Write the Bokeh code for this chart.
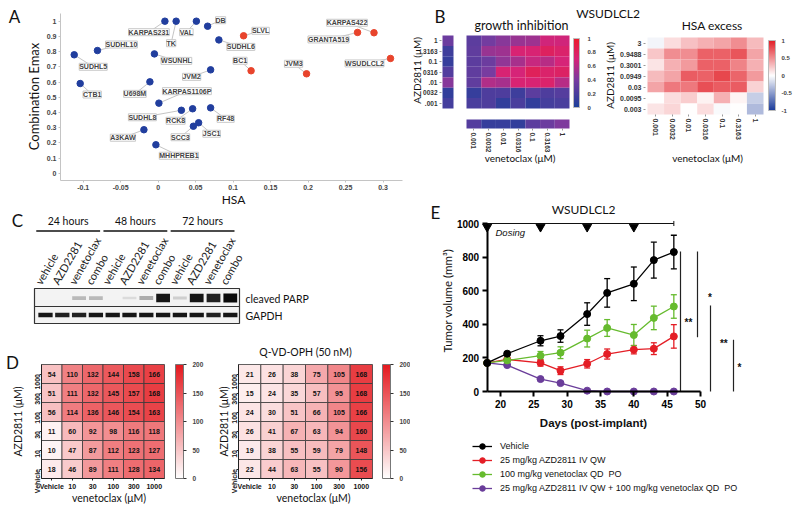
import math
import numpy as np
from bokeh.plotting import figure
from bokeh.models import (ColumnDataSource, LabelSet, Label, Range1d, FixedTicker,
                          LinearColorMapper, ColorBar, Whisker, TeeHead, Legend,
                          LegendItem, Div)
from bokeh.layouts import column, row
from bokeh.embed import file_html
from bokeh.resources import INLINE
from bokeh.core.properties import value

# ======================= DATA =======================
# ---- Panel A : combination Emax vs HSA
a_lines = ["KARPAS231", "TK", "VAL", "DB", "SLVL", "SUDHL6", "SUDHL10", "SUDHL5",
           "WSUNHL", "BC1", "JVM2", "JVM3", "CTB1", "U698M", "KARPAS1106P", "SUDHL8",
           "RCK8", "RF48", "SCC3", "JSC1", "A3KAW", "MHHPREB1", "KARPAS422",
           "GRANTA519", "WSUDLCL2"]
a_hsa = [0.009, 0.024, 0.051, 0.066, 0.114, 0.081, -0.081, -0.112, -0.005, 0.124,
         0.070, 0.198, -0.104, -0.011, 0.001, 0.031, 0.046, 0.070, 0.047, 0.054,
         -0.019, -0.003, 0.288, 0.266, 0.310]
a_emax = [1.0, 1.0, 1.0, 0.967, 0.904, 0.877, 0.807, 0.779, 0.785, 0.674, 0.680,
          0.654, 0.590, 0.601, 0.461, 0.414, 0.424, 0.430, 0.309, 0.332, 0.286,
          0.187, 0.924, 0.926, 0.755]
a_synergy = ["SLVL", "BC1", "JVM3", "KARPAS422", "GRANTA519", "WSUDLCL2"]
a_xticks = [-0.1, -0.05, 0, 0.05, 0.1, 0.15, 0.2, 0.25, 0.3]
a_xtick_labels = ["-0.1", "-0.05", "0", "0.05", "0.1", "0.15", "0.2", "0.25", "0.3"]
a_yticks = [0, 0.1, 0.2, 0.3, 0.4, 0.5, 0.6, 0.7, 0.8, 0.9, 1]
a_ytick_labels = ["0", "0.1", "0.2", "0.3", "0.4", "0.5", "0.6", "0.7", "0.8", "0.9", "1"]

# ---- Panel B : WSUDLCL2 matrices
b_ven_labels = ["0.001", "0.0032", "0.01", "0.0316", "0.1", "0.3163", "1"]
b_gi_azd_labels = ["1", "3163", "0.1", "0316", ".01", "0032", ".001"]      # top -> bottom
b_gi = [[0.28, 0.38, 0.45, 0.50, 0.52, 0.68, 0.68],
        [0.30, 0.50, 0.52, 0.72, 0.72, 0.80, 0.75],
        [0.28, 0.35, 0.48, 0.55, 0.65, 0.60, 0.70],
        [0.30, 0.40, 0.72, 0.70, 0.82, 0.75, 0.78],
        [0.30, 0.58, 0.55, 0.72, 0.72, 0.75, 0.60],
        [0.12, 0.22, 0.22, 0.15, 0.28, 0.22, 0.25],
        [0.20, 0.22, 0.10, 0.20, 0.10, 0.18, 0.20]]
b_gi_azd_alone = [0.35, 0.16, 0.12, 0.24, 0.45, 0.10, 0.18]                # top -> bottom
b_gi_ven_alone = [0.25, 0.12, 0.12, 0.10, 0.28, 0.35, 0.42]
b_gi_ticks = [0, 0.2, 0.4, 0.6, 0.8, 1]
b_gi_tick_labels = ["0", "0.2", "0.4", "0.6", "0.8", "1"]
b_hsa_azd_labels = ["3", "0.9488", "0.3001", "0.0949", "0.03", "0.0095", "0.003"]  # top -> bottom
b_hsa = [[-0.05, 0.15, 0.28, 0.35, 0.40, 0.50, 0.30],
         [0.25, 0.50, 0.50, 0.70, 0.70, 0.75, 0.40],
         [0.12, 0.35, 0.45, 0.70, 0.70, 0.55, 0.35],
         [0.30, 0.40, 0.72, 0.70, 0.82, 0.68, 0.45],
         [0.40, 0.60, 0.60, 0.78, 0.72, 0.72, 0.20],
         [0.00, 0.15, 0.22, 0.06, 0.35, 0.05, -0.25],
         [0.12, 0.18, 0.00, 0.15, -0.03, 0.00, -0.35]]
b_hsa_ticks = [-1, -0.5, 0, 0.5, 1]
b_hsa_tick_labels = ["-1", "-0.5", "0", "0.5", "1"]

# ---- Panel C : western blot
c_times = ["24 hours", "48 hours", "72 hours"]
c_treatments = ["vehicle", "AZD2281", "venetoclax", "combo"]
c_parp = [0.0, 0.0, 0.25, 0.25, 0.0, 0.10, 0.30, 0.95, 0.15, 0.95, 0.90, 1.0]
c_gapdh = [0.95, 0.90, 0.90, 0.95, 0.95, 0.95, 0.95, 0.95, 0.95, 0.95, 0.90, 0.95]
c_proteins = ["cleaved PARP", "GAPDH"]

# ---- Panel D : matrices (rows top -> bottom: 1000 ... Vehicle)
d_doses = ["Vehicle", "10", "30", "100", "300", "1000"]
d_plain = [[54, 110, 132, 144, 158, 166],
           [51, 111, 132, 145, 157, 168],
           [56, 114, 136, 146, 154, 163],
           [11, 60, 92, 98, 116, 118],
           [10, 47, 87, 112, 123, 127],
           [18, 46, 89, 111, 128, 134]]
d_qvd = [[21, 26, 38, 75, 105, 168],
         [15, 24, 35, 57, 95, 168],
         [24, 30, 51, 66, 105, 166],
         [26, 41, 67, 63, 94, 160],
         [19, 38, 55, 59, 79, 148],
         [22, 44, 63, 55, 90, 156]]
d_ticks = [0, 50, 100, 150, 200]
d_tick_labels = ["0", "50", "100", "150", "200"]

# ---- Panel E : xenograft growth
e_days = [18, 21, 26, 29, 33, 36, 40, 43, 46]
e_series = ["Vehicle", "25 mg/kg AZD2811 IV QW", "100 mg/kg venetoclax QD  PO",
            "25 mg/kg AZD2811 IV QW + 100 mg/kg venetoclax QD  PO"]
e_vehicle = [170, 225, 302, 330, 461, 587, 641, 782, 830]
e_vehicle_err = [0, 12, 30, 37, 67, 85, 100, 107, 100]
e_azd = [170, 191, 171, 124, 165, 223, 249, 255, 328]
e_azd_err = [0, 10, 20, 23, 25, 30, 25, 35, 70]
e_ven = [170, 185, 213, 231, 315, 378, 336, 438, 506]
e_ven_err = [0, 10, 25, 35, 50, 50, 63, 70, 70]
e_combo = [170, 157, 74, 50, 5, 0, 0, 0, 0]
e_combo_err = [0, 0, 0, 0, 0, 0, 0, 0, 0]
e_dosing_days = [18, 26, 33, 40]
e_sig_x = [47.0, 49.55, 51.5, 54.95]
e_sig_top = [833, 833, 512, 308]
e_sig_bottom = [0, 323, 0, 0]
e_star_text = ["**", "*", "**", "*"]
e_star_x = [48.2, 51.4, 53.5, 55.85]
e_star_y = [411, 558, 284, 143]
e_xticks = [20, 25, 30, 35, 40, 45, 50]
e_yticks = [0, 200, 400, 600, 800, 1000]

# ======================= HELPERS =======================
TICK_FONT = "Liberation Sans"
TITLE_FONT = "Lato"
COL_SPLIT = 410      # page x where the right-hand column starts


class Frame:
    """Canvas box (page px) + linear mapping page px <-> data (layout only)."""
    def __init__(self, l, r, t, b, xa, ya):
        self.l, self.r, self.t, self.b = l, r, t, b
        pxa, va, pxb, vb = xa
        self.sx = (pxb - pxa) / (vb - va)
        self.x0 = (pxa, va)
        pya, wa, pyb, wb = ya
        self.sy = (pyb - pya) / (wb - wa)   # negative
        self.y0 = (pya, wa)
        self.xr = (self.x(l), self.x(r))
        self.yr = (self.y(b), self.y(t))

    def x(self, px):
        return self.x0[1] + (px - self.x0[0]) / self.sx

    def y(self, py):
        return self.y0[1] + (py - self.y0[0]) / self.sy


def make_fig(fr, **kw):
    p = figure(width=int(round(fr.r - fr.l)), height=int(round(fr.b - fr.t)),
               x_range=Range1d(*fr.xr), y_range=Range1d(*fr.yr),
               output_backend="svg", toolbar_location=None, min_border=0, **kw)
    p.outline_line_color = None
    p.grid.visible = False
    p.background_fill_color = "white"
    p.border_fill_color = "white"
    return p


def ramp(stops, n=256):
    pos = np.array([s[0] for s in stops])
    cols = np.array([[int(c[i:i + 2], 16) for i in (1, 3, 5)] for _, c in stops], dtype=float)
    out = []
    for t in np.linspace(0, 1, n):
        r, g, b = (np.interp(t, pos, cols[:, k]) for k in range(3))
        out.append("#%02x%02x%02x" % (int(round(r)), int(round(g)), int(round(b))))
    return out


def style_axis(ax, size, color="#333", bold=True, tick_out=2, standoff=2):
    ax.major_label_text_font = TICK_FONT
    ax.major_label_text_font_size = size
    ax.major_label_text_font_style = "bold" if bold else "normal"
    ax.major_label_text_color = color
    ax.major_tick_out = tick_out
    ax.major_tick_in = 0
    ax.minor_tick_line_color = None
    ax.major_label_standoff = standoff


def text(p, fr, px, py, s, size="12px", font=TITLE_FONT, style="normal", angle=0,
         align="center", color="#111"):
    p.add_layout(Label(x=fr.x(px), y=fr.y(py), text=s, text_font=font,
                       text_font_size=size, text_font_style=style, text_align=align,
                       text_baseline="middle", text_color=color, angle=angle))


# ======================= PANEL A =======================
A_OFFSETS = {"KARPAS231": (-16, 11), "TK": (-5, 22), "VAL": (-10, 11), "DB": (13, -6),
             "SLVL": (17, -5), "SUDHL6": (22, 7), "SUDHL10": (24, -6), "SUDHL5": (19, 12),
             "WSUNHL": (22, 7), "BC1": (-11, -10), "JVM2": (-19, 7), "JVM3": (-13, -10),
             "CTB1": (12, 11), "U698M": (-15, 12), "KARPAS1106P": (28, -12),
             "SUDHL8": (-39, 7), "RCK8": (-17, 12), "RF48": (15, 11), "SCC3": (-13, 11),
             "JSC1": (13, 11), "A3KAW": (-21, 8), "MHHPREB1": (23, 11),
             "KARPAS422": (-27, -10), "GRANTA519": (-29, 7), "WSUDLCL2": (-26, 5)}
FA = Frame(0, COL_SPLIT, 0, 208, (82.7, -0.1, 382.5, 0.3), (172.7, 0.0, 20.7, 1.0))
pA = make_fig(FA)
srcA = ColumnDataSource(dict(
    x=a_hsa, y=a_emax, name=a_lines,
    lx=[h + A_OFFSETS[n][0] / FA.sx for h, n in zip(a_hsa, a_lines)],
    ly=[e + A_OFFSETS[n][1] / FA.sy for e, n in zip(a_emax, a_lines)],
    color=["#e8442c" if n in a_synergy else "#213e9e" for n in a_lines]))
pA.segment("x", "y", "lx", "ly", source=srcA, line_color="#b5b5b5", line_width=0.8)
pA.scatter("x", "y", source=srcA, size=6.5, fill_color="color", line_color="color")
pA.add_layout(LabelSet(x="lx", y="ly", text="name", source=srcA,
                       text_font=value(TICK_FONT), text_font_size="7px",
                       text_font_style="bold", text_color="#444", text_align="center",
                       text_baseline="middle", background_fill_color="#ffffff",
                       background_fill_alpha=1.0,
                       border_line_color="#c8c8c8", border_line_width=1))
pA.xaxis.ticker = FixedTicker(ticks=a_xticks)
pA.xaxis.major_label_overrides = dict(zip(a_xticks, a_xtick_labels))
pA.yaxis.ticker = FixedTicker(ticks=a_yticks)
pA.yaxis.major_label_overrides = dict(zip(a_yticks, a_ytick_labels))
pA.xaxis.fixed_location = FA.y(180)
pA.yaxis.fixed_location = FA.x(60)
pA.xaxis.bounds = (FA.x(60), FA.x(402))
pA.yaxis.bounds = (FA.y(180), FA.y(13))
for ax in (pA.xaxis[0], pA.yaxis[0]):
    style_axis(ax, "7px", color="#444", tick_out=2, standoff=2)
    ax.axis_line_color = "#c4c4c4"
    ax.major_tick_line_color = "#c4c4c4"
text(pA, FA, 233, 199, "HSA", size="12px")
text(pA, FA, 33, 96, "Combination Emax", size="13px", angle=math.pi / 2)
text(pA, FA, 14, 16, "A", size="17px")

# ======================= PANEL B =======================
gi_palette = ramp([(0.0, "#1b3f9a"), (0.4, "#783ca0"), (0.7, "#d62478"), (1.0, "#ec1c2c")])
hsa_palette = ramp([(0.0, "#1a3a9a"), (0.5, "#ffffff"), (1.0, "#e21e26")])
gi_mapper = LinearColorMapper(palette=gi_palette, low=0, high=1)
hsa_mapper = LinearColorMapper(palette=hsa_palette, low=-1, high=1)
n = len(b_ven_labels)

# --- growth inhibition
FBL = Frame(COL_SPLIT, 600, 34, 195, (466, -0.5, 569, 6.5), (108, -0.5, 35, 6.5))
pBL = make_fig(FBL)
gx, gy, gv = [], [], []
for i, rowv in enumerate(b_gi):
    for j, v in enumerate(rowv):
        gx.append(j); gy.append(n - 1 - i); gv.append(v)
pBL.rect("x", "y", 1, 1, source=ColumnDataSource(dict(x=gx, y=gy, v=gv)),
         fill_color={"field": "v", "transform": gi_mapper}, line_color=None)
pBL.rect(x=[FBL.x(447.5)] * n, y=[n - 1 - i for i in range(n)], width=11 / FBL.sx,
         height=1, fill_color=[gi_palette[int(v * 255)] for v in b_gi_azd_alone],
         line_color=None)
pBL.rect(x=list(range(n)), y=[FBL.y(123.5)] * n, width=1, height=-9 / FBL.sy,
         fill_color=[gi_palette[int(v * 255)] for v in b_gi_ven_alone], line_color=None)
pBL.yaxis.ticker = FixedTicker(ticks=list(range(n)))
pBL.yaxis.major_label_overrides = {n - 1 - i: s for i, s in enumerate(b_gi_azd_labels)}
pBL.xaxis.ticker = FixedTicker(ticks=list(range(n)))
pBL.xaxis.major_label_overrides = {j: s for j, s in enumerate(b_ven_labels)}
pBL.xaxis.major_label_orientation = -math.pi / 2
pBL.xaxis.fixed_location = FBL.y(128)
pBL.yaxis.fixed_location = FBL.x(441)
for ax in (pBL.xaxis[0], pBL.yaxis[0]):
    style_axis(ax, "6.5px", color="#333", tick_out=2, standoff=2)
    ax.axis_line_color = None
    ax.major_tick_line_color = "#999"
pBL.add_layout(ColorBar(color_mapper=gi_mapper, location=(573 - COL_SPLIT, 195 - 107),
                        width=6, height=69, margin=0, padding=0,
                        ticker=FixedTicker(ticks=b_gi_ticks),
                        major_label_overrides=dict(zip(b_gi_ticks, b_gi_tick_labels)),
                        major_label_text_font=TICK_FONT, major_label_text_font_size="6px",
                        major_label_text_font_style="bold", label_standoff=8,
                        major_tick_line_color=None, bar_line_color="#bbbbbb",
                        background_fill_color=None))
text(pBL, FBL, 416, 70, "AZD2811 (\u03bcM)", size="10px", angle=math.pi / 2)
text(pBL, FBL, 519.5, 157, "venetoclax (\u03bcM)", size="10px")

# --- HSA excess
FBR = Frame(600, 800, 34, 195, (647, -0.5, 763, 6.5), (114, -0.5, 37, 6.5))
pBR = make_fig(FBR)
hx, hy, hv = [], [], []
for i, rowv in enumerate(b_hsa):
    for j, v in enumerate(rowv):
        hx.append(j); hy.append(n - 1 - i); hv.append(v)
pBR.rect("x", "y", 1, 1, source=ColumnDataSource(dict(x=hx, y=hy, v=hv)),
         fill_color={"field": "v", "transform": hsa_mapper}, line_color=None)
pBR.yaxis.ticker = FixedTicker(ticks=list(range(n)))
pBR.yaxis.major_label_overrides = {n - 1 - i: s for i, s in enumerate(b_hsa_azd_labels)}
pBR.xaxis.ticker = FixedTicker(ticks=list(range(n)))
pBR.xaxis.major_label_overrides = {j: s for j, s in enumerate(b_ven_labels)}
pBR.xaxis.major_label_orientation = -math.pi / 2
pBR.xaxis.fixed_location = FBR.y(114)
pBR.yaxis.fixed_location = FBR.x(645)
for ax in (pBR.xaxis[0], pBR.yaxis[0]):
    style_axis(ax, "7px", color="#333", tick_out=2, standoff=2)
    ax.axis_line_color = None
    ax.major_tick_line_color = "#999"
pBR.add_layout(ColorBar(color_mapper=hsa_mapper, location=(768 - 600, 195 - 110), width=7,
                        height=70, margin=0, padding=0, ticker=FixedTicker(ticks=b_hsa_ticks),
                        major_label_overrides=dict(zip(b_hsa_ticks, b_hsa_tick_labels)),
                        major_label_text_font=TICK_FONT, major_label_text_font_size="6px",
                        major_label_text_font_style="bold", label_standoff=6,
                        major_tick_line_color=None, bar_line_color="#bbbbbb",
                        background_fill_color=None))
text(pBR, FBR, 609, 75, "AZD2811 (\u03bcM)", size="10px", angle=math.pi / 2)
text(pBR, FBR, 707, 157, "venetoclax (\u03bcM)", size="10px")

SPAN = ('<span style="position:absolute;left:{x}px;top:{y}px;transform:translate(-50%,-50%);'
        'white-space:nowrap;line-height:1;font-family:Lato;font-size:{s}px;color:#111;">{t}</span>')
DIV_W = 800 - COL_SPLIT
divB = Div(text='<div style="position:relative;width:%dpx;height:34px;">' % DIV_W
                + SPAN.format(x=440 - COL_SPLIT, y=16, s=17, t="B")
                + SPAN.format(x=608 - COL_SPLIT, y=14, s=12, t="WSUDLCL2")
                + SPAN.format(x=521.5 - COL_SPLIT, y=26, s=12.5, t="growth inhibition")
                + SPAN.format(x=712 - COL_SPLIT, y=26, s=12, t="HSA excess")
                + '</div>', width=DIV_W, height=34, margin=0)

# ======================= PANEL C =======================
FC = Frame(0, COL_SPLIT, 208, 338, (45, 1, 229.8, 12), (338, 0, 208, 130))
pC = make_fig(FC, x_axis_type=None, y_axis_type=None)
lanes = list(range(1, 13))
lane_names = [t for _ in c_times for t in c_treatments]
pC.rect(x=[FC.x(136.5)] * 2, y=[FC.y(297), FC.y(314.5)], width=205 / FC.sx,
        height=[18, 17], fill_color="#f3f3f3", line_color="#333", line_width=1.2)
pC.rect(x=lanes, y=[FC.y(297.5)] * 12, width=0.82,
        height=[2 + 7 * v if v > 0 else 0.1 for v in c_parp],
        fill_color="#0a0a0a", fill_alpha=c_parp, line_color=None)
pC.rect(x=lanes, y=[FC.y(314.5)] * 12, width=0.85, height=4.5,
        fill_color="#0a0a0a", fill_alpha=c_gapdh, line_color=None)
pC.text(x=[l - 0.45 for l in lanes], y=[FC.y(283)] * 12, text=lane_names,
        angle=math.radians(60), text_font=value(TITLE_FONT), text_font_size="11px",
        text_align="left", text_baseline="middle", text_color="#222")
grp_c = [2.5 + 4 * g - 0.15 for g in range(3)]
pC.text(x=grp_c, y=[FC.y(220)] * 3, text=c_times, text_font=value(TITLE_FONT),
        text_font_size="10.5px", text_align="center", text_baseline="middle",
        text_color="#111")
pC.segment(x0=[c - 1.9 for c in grp_c], y0=[FC.y(230.5)] * 3,
           x1=[c + 1.9 for c in grp_c], y1=[FC.y(230.5)] * 3,
           line_color="#111", line_width=1.5)
pC.text(x=[FC.x(245)] * 2, y=[FC.y(298), FC.y(315)], text=c_proteins,
        text_font=value(TITLE_FONT), text_font_size="10.5px", text_align="left",
        text_baseline="middle", text_color="#111")
text(pC, FC, 17, 220, "C", size="17px")

# ======================= PANEL D =======================
d_palette = ramp([(0.0, "#ffffff"), (1.0, "#e4191f")])
d_mapper = LinearColorMapper(palette=d_palette, low=0, high=200)


def heat_d(vals, fr, cb_left):
    p = make_fig(fr)
    m = len(d_doses)
    xs, ys, vs = [], [], []
    for i, rowv in enumerate(vals):
        for j, v in enumerate(rowv):
            xs.append(j + 0.5); ys.append(m - 1 - i + 0.5); vs.append(v)
    src = ColumnDataSource(dict(x=xs, y=ys, v=vs, t=[str(v) for v in vs]))
    p.rect("x", "y", 1, 1, source=src, fill_color={"field": "v", "transform": d_mapper},
           line_color="#3a3a3a", line_width=0.8)
    p.text("x", "y", text="t", source=src, text_font=value(TICK_FONT),
           text_font_size="7px", text_font_style="bold", text_align="center",
           text_baseline="middle", text_color="#111")
    tk = [k + 0.5 for k in range(m)]
    p.xaxis.ticker = FixedTicker(ticks=tk)
    p.xaxis.major_label_overrides = dict(zip(tk, d_doses))
    p.yaxis.ticker = FixedTicker(ticks=tk)
    p.yaxis.major_label_overrides = dict(zip(tk, d_doses))
    p.yaxis.major_label_orientation = math.pi / 2
    p.xaxis.fixed_location = 0
    p.yaxis.fixed_location = 0
    p.xaxis.bounds = (0, m)
    p.yaxis.bounds = (0, m)
    for ax in (p.xaxis[0], p.yaxis[0]):
        style_axis(ax, "7px", color="#111", tick_out=2, standoff=2)
        ax.axis_line_color = "#222"
        ax.major_tick_line_color = "#222"
    p.add_layout(ColorBar(color_mapper=d_mapper, location=(cb_left - fr.l, 514 - 478),
                          width=8, height=114, margin=0, padding=0,
                          ticker=FixedTicker(ticks=d_ticks),
                          major_label_overrides=dict(zip(d_ticks, d_tick_labels)),
                          major_label_text_font=TICK_FONT, major_label_text_font_size="6.5px",
                          major_label_text_font_style="bold", label_standoff=6,
                          major_tick_out=3, major_tick_in=0, major_tick_line_color="#333",
                          bar_line_color="#777", background_fill_color=None))
    return p


FDL = Frame(0, 212, 338, 514, (41, 0, 164, 6), (478, 0, 364, 6))
pDL = heat_d(d_plain, FDL, 175)
text(pDL, FDL, 12, 362, "D", size="17px")
text(pDL, FDL, 17.5, 421, "AZD2811 (\u03bcM)", size="10.5px", angle=math.pi / 2)
text(pDL, FDL, 108.5, 497, "venetoclax (\u03bcM)", size="10.5px")
FDR = Frame(212, COL_SPLIT, 338, 514, (238, 0, 372, 6), (478, 0, 364, 6))
pDR = heat_d(d_qvd, FDR, 382)
text(pDR, FDR, 305, 351, "Q-VD-OPH (50 nM)", size="10.5px")
text(pDR, FDR, 223, 421, "AZD2811 (\u03bcM)", size="10.5px", angle=math.pi / 2)
text(pDR, FDR, 313, 497, "venetoclax (\u03bcM)", size="10.5px")

# ======================= PANEL E =======================
FE = Frame(COL_SPLIT, 800, 195, 514, (500, 20, 700, 50), (391, 0, 223, 1000))
pE = make_fig(FE)
e_colors = ["#000000", "#e41e26", "#66bb2e", "#6a3d9a"]
e_vals = [e_vehicle, e_azd, e_ven, e_combo]
e_errs = [e_vehicle_err, e_azd_err, e_ven_err, e_combo_err]
rends = {}
for k in (3, 1, 2, 0):
    c = e_colors[k]
    lr = pE.line(e_days, e_vals[k], line_color=c, line_width=1.3)
    sr = pE.scatter(e_days, e_vals[k], size=7, fill_color=c, line_color=c)
    keep = [i for i, e in enumerate(e_errs[k]) if e > 0]
    if keep:
        wsrc = ColumnDataSource(dict(
            x=[e_days[i] for i in keep],
            lo=[e_vals[k][i] - e_errs[k][i] for i in keep],
            hi=[e_vals[k][i] + e_errs[k][i] for i in keep]))
        pE.add_layout(Whisker(base="x", lower="lo", upper="hi", source=wsrc,
                              line_color=c, line_width=1.3,
                              upper_head=TeeHead(size=6, line_color=c, line_width=1.3),
                              lower_head=TeeHead(size=6, line_color=c, line_width=1.3)))
    rends[k] = [lr, sr]
items = [LegendItem(label=e_series[k], renderers=rends[k]) for k in range(4)]
pE.add_layout(Legend(items=items, location=(472 - COL_SPLIT, 514 - 495),
                     orientation="vertical",
                     label_text_font=TICK_FONT, label_text_font_size="9px",
                     label_text_color="#111", glyph_width=20, glyph_height=14,
                     label_height=14, spacing=0, padding=0, margin=0,
                     label_standoff=8, border_line_color=None,
                     background_fill_alpha=0))
pE.segment(x0=[e_dosing_days[0]], y0=[1000], x1=[max(e_days)], y1=[1000],
           line_color="#111", line_width=1.2)
pE.segment(x0=[max(e_days)], y0=[985], x1=[max(e_days)], y1=[1015],
           line_color="#111", line_width=1)
pE.scatter(e_dosing_days, [1000 - 20] * len(e_dosing_days), marker="inverted_triangle",
           size=9, fill_color="#000", line_color="#000")
text(pE, FE, 495, 232, "Dosing", size="9.5px", font=TICK_FONT, style="italic",
     align="left")
pE.segment(x0=e_sig_x, y0=e_sig_bottom, x1=e_sig_x, y1=e_sig_top, line_color="#222",
           line_width=1.2)
pE.text(e_star_x, e_star_y, text=e_star_text, text_font=value(TICK_FONT),
        text_font_size="10px", text_font_style="bold", text_align="center",
        text_baseline="middle", text_color="#111")
pE.xaxis.ticker = FixedTicker(ticks=e_xticks)
pE.yaxis.ticker = FixedTicker(ticks=e_yticks)
pE.xaxis.bounds = (18, 50)
pE.yaxis.bounds = (0, 1000)
pE.xaxis.fixed_location = 0
pE.yaxis.fixed_location = 18
for ax in (pE.xaxis[0], pE.yaxis[0]):
    style_axis(ax, "10px", color="#000", tick_out=5, standoff=3)
    ax.axis_line_color = "#000"
    ax.axis_line_width = 2
    ax.major_tick_line_color = "#000"
    ax.major_tick_line_width = 2
text(pE, FE, 447, 300, "Tumor volume (mm\u00b3)", size="11.5px", angle=math.pi / 2)
text(pE, FE, 593, 422.5, "Days (post-implant)", size="11.5px", font=TICK_FONT,
     style="bold")
text(pE, FE, 583, 209, "WSUDLCL2", size="12px")
text(pE, FE, 435, 212, "E", size="17px")

# ======================= LAYOUT =======================
left = column(pA, pC, row(pDL, pDR, spacing=0), spacing=0)
right = column(divB, row(pBL, pBR, spacing=0), pE, spacing=0)
page = row(left, right, spacing=0)

with open("out.html", "w") as f:
    f.write(file_html(page, INLINE))
